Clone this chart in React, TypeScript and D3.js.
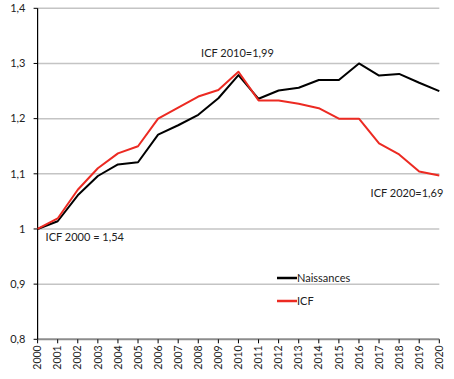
import React from "react";
import * as d3 from "d3";

const years = [2000, 2001, 2002, 2003, 2004, 2005, 2006, 2007, 2008, 2009, 2010, 2011, 2012, 2013, 2014, 2015, 2016, 2017, 2018, 2019, 2020];
const naissances = [1.0, 1.014, 1.061, 1.096, 1.117, 1.121, 1.171, 1.188, 1.207, 1.237, 1.279, 1.236, 1.251, 1.256, 1.27, 1.27, 1.3, 1.278, 1.281, 1.265, 1.25];
const icf = [1.0, 1.019, 1.071, 1.11, 1.137, 1.15, 1.2, 1.22, 1.24, 1.252, 1.285, 1.233, 1.233, 1.227, 1.219, 1.2, 1.2, 1.155, 1.135, 1.104, 1.097];
const yTicks = [0.8, 0.9, 1.0, 1.1, 1.2, 1.3, 1.4];
const annotations = [
  { text: "ICF 2000 = 1,54", year: 2000, value: 1.0 },
  { text: "ICF 2010=1,99", year: 2010, value: 1.285 },
  { text: "ICF 2020=1,69", year: 2020, value: 1.097 },
];
const legendItems = [
  { label: "Naissances", color: "#000000" },
  { label: "ICF", color: "#ec2a22" },
];

const W = 454;
const H = 379;
const font = "Lato, 'Open Sans', sans-serif";

export default function App() {
  const x = d3.scaleLinear().domain([2000, 2020]).range([37.6, 439.3]);
  const y = d3.scaleLinear().domain([0.8, 1.4]).range([339.3, 8.3]);
  const line = d3
    .line<number>()
    .x((_, i) => x(years[i]))
    .y((d) => y(d));
  const fmt = (v: number) => (Math.round(v * 10) / 10).toString().replace(".", ",");

  return (
    <svg
      width={W}
      height={H}
      style={{ position: "absolute", left: 0, top: 0, background: "#fff" }}
      fontFamily={font}
    >
      {yTicks.map((t) => (
        <g key={t}>
          {t > 0.8 && (
            <line x1={x(2000)} x2={x(2020)} y1={y(t)} y2={y(t)} stroke="#c4c4c4" strokeWidth={1.5} />
          )}
          <line x1={x(2000) - 4} x2={x(2000)} y1={y(t)} y2={y(t)} stroke="#000" strokeWidth={1} />
          <text x={25.5} y={y(t)} dy="0.35em" textAnchor="end" fontSize={11} fill="#222">
            {fmt(t)}
          </text>
        </g>
      ))}
      <line x1={x(2000)} x2={x(2020)} y1={y(0.8)} y2={y(0.8)} stroke="#8c8c8c" strokeWidth={2} />
      {years.map((yr) => (
        <g key={yr}>
          <line x1={x(yr)} x2={x(yr)} y1={y(0.8)} y2={y(0.8) + 4} stroke="#000" strokeWidth={1} />
          <text
            transform={`translate(${x(yr)},${y(0.8) + 6}) rotate(-90)`}
            textAnchor="end"
            dy="0.35em"
            fontSize={10.5}
            fill="#222"
          >
            {yr}
          </text>
        </g>
      ))}
      <line x1={x(2000)} x2={x(2000)} y1={y(1.4)} y2={y(0.8)} stroke="#000" strokeWidth={1.2} />
      <path d={line(naissances) || ""} fill="none" stroke="#000" strokeWidth={2} strokeLinejoin="round" />
      <path d={line(icf) || ""} fill="none" stroke="#ec2a22" strokeWidth={2} strokeLinejoin="round" />
      <text x={x(annotations[0].year) + 8} y={y(annotations[0].value) + 12} fontSize={11} fill="#222">
        {annotations[0].text}
      </text>
      <text x={x(annotations[1].year) - 1} y={y(annotations[1].value) - 15} textAnchor="middle" fontSize={11} fill="#222">
        {annotations[1].text}
      </text>
      <text x={x(annotations[2].year) + 4} y={y(annotations[2].value) + 22} textAnchor="end" fontSize={11} fill="#222">
        {annotations[2].text}
      </text>
      {legendItems.map((it, i) => (
        <g key={it.label} transform={`translate(277,${278 + i * 23})`}>
          <line x1={0} x2={20} y1={0} y2={0} stroke={it.color} strokeWidth={2.5} />
          <text x={20} y={0} dy="0.35em" fontSize={11} fill="#222">
            {it.label}
          </text>
        </g>
      ))}
    </svg>
  );
}
